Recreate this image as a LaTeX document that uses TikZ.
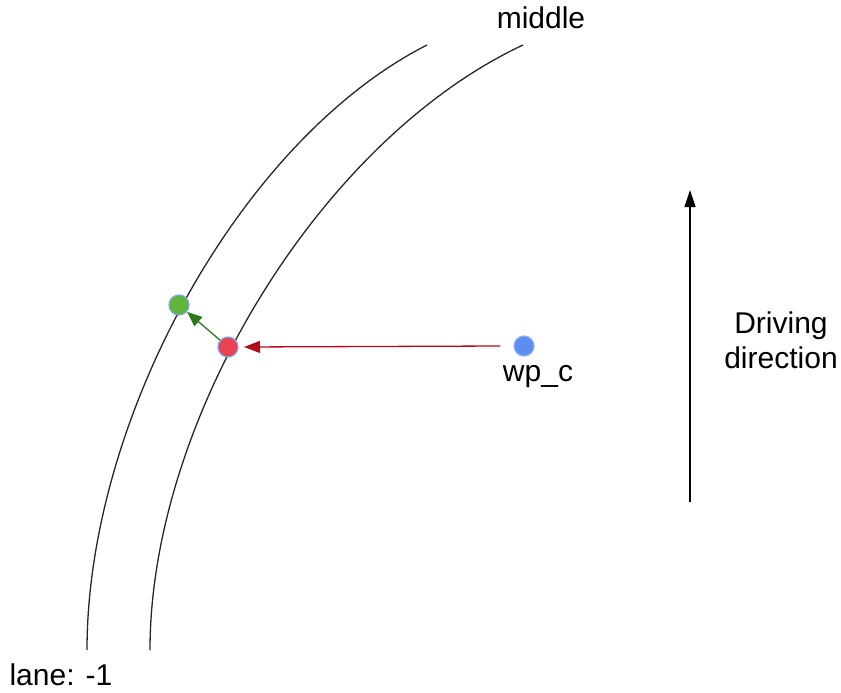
\documentclass[tikz,border=0pt]{standalone}
\usepackage{fontspec}
\setmainfont{Liberation Sans}
\usetikzlibrary{arrows.meta}
\definecolor{redfill}{HTML}{EA4153}
\definecolor{greenfill}{HTML}{5DB53A}
\definecolor{bluefill}{HTML}{5C8EF0}
\definecolor{dotedge}{HTML}{7EA6E0}
\definecolor{redline}{HTML}{B20A1A}
\definecolor{greenline}{HTML}{2D7A1A}
\tikzset{
  lane/.style={line width=1.3pt, black!85},
  dot/.style={circle, minimum size=20pt, inner sep=0pt, draw=dotedge, line width=1.2pt},
  lbl/.style={font=\fontsize{30}{35}\selectfont, inner sep=0pt, align=center},
}
\begin{document}
\begin{tikzpicture}[x=1pt,y=-1pt]
\useasboundingbox (0,0) rectangle (841,693);
\draw[lane] (87,650) .. controls (87,420) and (240,140) .. (427,45);
\draw[lane] (150,650) .. controls (150,420) and (320,140) .. (523,45);
\node[dot, fill=greenfill] (g) at (179,305) {};
\node[dot, fill=redfill] (r) at (228,347) {};
\node[dot, fill=bluefill, draw=bluefill!70!white] (b) at (524,346) {};
\coordinate (rs) at (500,346);
\coordinate (re) at (244,347);
\draw[redline, line width=1.3pt, -{Triangle[length=16pt,width=12pt]}] (rs) -- (re);
\draw[greenline, line width=1.3pt, -{Triangle[length=15pt,width=12pt]}] (r) -- (g);
\node[lbl] (wp) at (538,377) {wp\_c};
\node[lbl] (mid) at (541,18) {middle};
\node[lbl] (lane) at (61,675) {lane: -1};
\node[lbl] (drv) at (781,340) {Driving\\direction};
\coordinate (d0) at (690,502);
\coordinate (d1) at (690,190);
\draw[black, line width=1.3pt, -{Triangle[length=17pt,width=11pt]}] (d0) -- (d1);
\end{tikzpicture}
\end{document}
